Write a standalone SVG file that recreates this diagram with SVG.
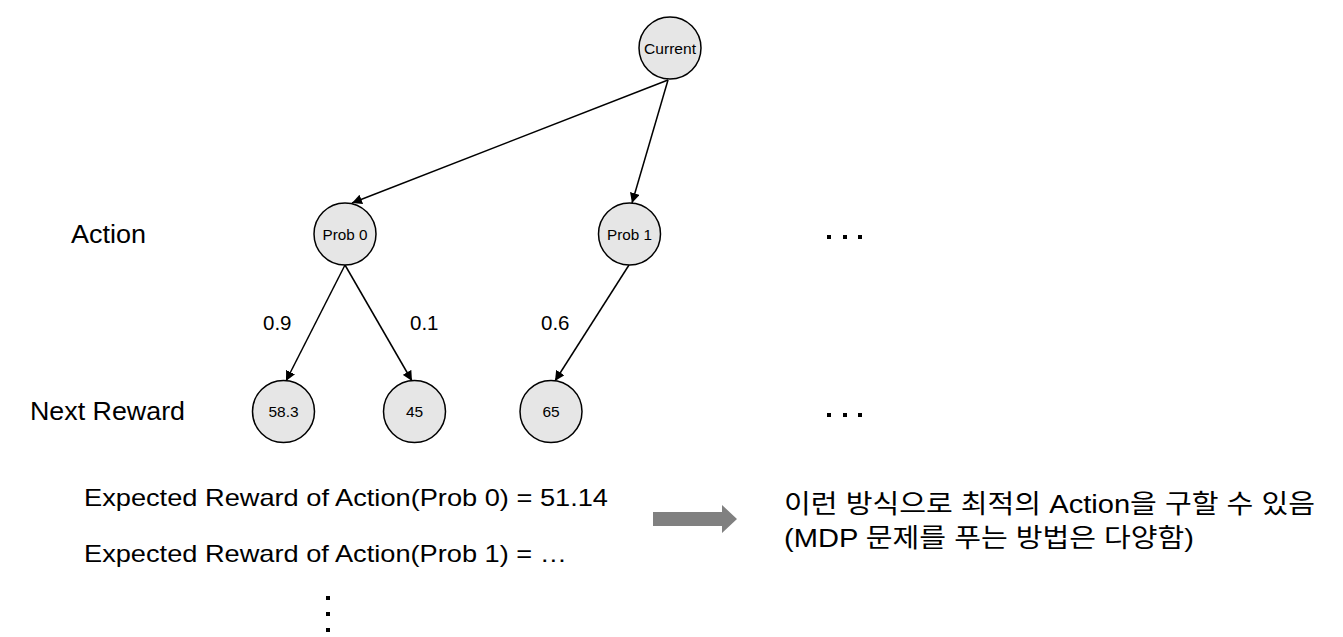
<svg xmlns="http://www.w3.org/2000/svg" width="1343" height="637" viewBox="0 0 1343 637">
<defs>
<marker id="ah" viewBox="0 0 10 10" refX="10" refY="5" markerWidth="10" markerHeight="10" markerUnits="userSpaceOnUse" orient="auto">
<path d="M0,0 L10,5 L0,10 z" fill="#000"/>
</marker>
</defs>
<style>
.node circle{fill:#e6e6e6;stroke:#000;stroke-width:1.5}
.node text{font-family:"Liberation Sans",Arial,sans-serif;font-size:15.5px;fill:#000;text-anchor:middle}
.edge{stroke:#000;stroke-width:1.5;fill:none;marker-end:url(#ah)}
.lbl{font-family:"Liberation Sans",Arial,sans-serif;font-size:26px;fill:#000}
.exp{font-family:"Liberation Sans",Arial,sans-serif;font-size:24px;fill:#000}
.plbl{font-family:"Liberation Sans",Arial,sans-serif;font-size:20.5px;fill:#000}
.kr{font-family:"Liberation Sans","Noto Sans CJK KR",sans-serif;font-size:26px;fill:#000}
.dot{fill:#000}
</style>
<rect width="1343" height="637" fill="#fff"/>
<g id="connectors">
<line class="edge" x1="668" y1="80" x2="352" y2="203"/>
<line class="edge" x1="668" y1="80" x2="632" y2="203"/>
<line class="edge" x1="345" y1="265" x2="286" y2="381"/>
<line class="edge" x1="345" y1="265" x2="412" y2="381"/>
<line class="edge" x1="629" y1="265" x2="555" y2="381"/>
</g>
<g id="current" class="node"><circle cx="670" cy="48" r="31"/><text x="670" y="54" textLength="52" lengthAdjust="spacingAndGlyphs">Current</text></g>
<g id="prob0" class="node"><circle cx="345" cy="234" r="31"/><text x="345" y="240" textLength="45" lengthAdjust="spacingAndGlyphs">Prob 0</text></g>
<g id="prob1" class="node"><circle cx="629.5" cy="234" r="31"/><text x="629.5" y="240" textLength="45" lengthAdjust="spacingAndGlyphs">Prob 1</text></g>
<g id="r583" class="node"><circle cx="283.5" cy="411.5" r="31"/><text x="283.5" y="417">58.3</text></g>
<g id="r45" class="node"><circle cx="414.5" cy="411.5" r="31"/><text x="414.5" y="417">45</text></g>
<g id="r65" class="node"><circle cx="551" cy="411.5" r="31"/><text x="551" y="417">65</text></g>
<g id="labels">
<text class="lbl" x="71" y="243" textLength="75" lengthAdjust="spacingAndGlyphs">Action</text>
<text class="lbl" x="30" y="420" textLength="155" lengthAdjust="spacingAndGlyphs">Next Reward</text>
<text class="plbl" x="263" y="330">0.9</text>
<text class="plbl" x="410" y="330">0.1</text>
<text class="plbl" x="541" y="330">0.6</text>
<text class="exp" x="84" y="506" textLength="524" lengthAdjust="spacingAndGlyphs">Expected Reward of Action(Prob 0) = 51.14</text>
<text class="exp" x="84" y="562" textLength="483" lengthAdjust="spacingAndGlyphs">Expected Reward of Action(Prob 1) = …</text>
<text class="kr" x="784" y="513" textLength="531" lengthAdjust="spacingAndGlyphs">이런 방식으로 최적의 Action을 구할 수 있음</text>
<text class="kr" x="784" y="547" textLength="410" lengthAdjust="spacingAndGlyphs">(MDP 문제를 푸는 방법은 다양함)</text>
</g>
<g id="ellipses">
<rect class="dot" x="827" y="235" width="4" height="4"/>
<rect class="dot" x="843" y="235" width="4" height="4"/>
<rect class="dot" x="858" y="235" width="4" height="4"/>
<rect class="dot" x="827" y="413" width="4" height="4"/>
<rect class="dot" x="843" y="413" width="4" height="4"/>
<rect class="dot" x="858" y="413" width="4" height="4"/>
<rect class="dot" x="326" y="596" width="4" height="4"/>
<rect class="dot" x="326" y="612" width="4" height="4"/>
<rect class="dot" x="326" y="628" width="4" height="4"/>
</g>
<g id="bigarrow">
<path d="M653,512 L722,512 L722,505 L737,519 L722,533 L722,526 L653,526 z" fill="#808080"/>
</g>
</svg>
